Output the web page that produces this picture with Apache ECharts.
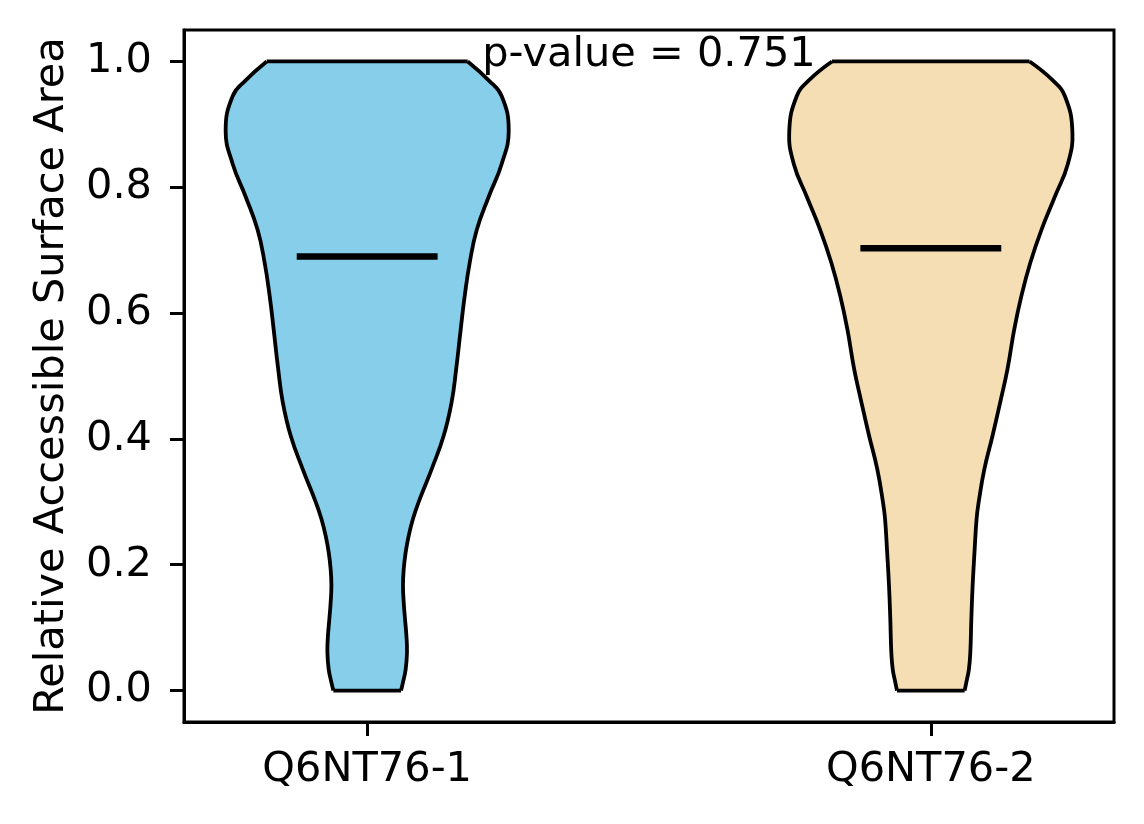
<!DOCTYPE html>
<html>
<head>
<meta charset="utf-8">
<script src="https://cdn.jsdelivr.net/npm/echarts@6/dist/echarts.min.js"></script>
<style>
  html, body { margin: 0; padding: 0; background: #fff; }
  #main { width: 1144px; height: 824px; }
</style>
</head>
<body>
<div id="main"></div>
<script>
// 分组
const groupNames = ['Q6NT76-1', 'Q6NT76-2'];
const groupPositions = [1, 2];
const groupColors = ['#87ceeb', '#f5deb3'];

// 小提琴轮廓：y 值 与 半宽（x 轴单位）
const violinY1 = [0.000, 0.013, 0.034, 0.061, 0.087, 0.114, 0.140, 0.167, 0.193, 0.220, 0.246, 0.273, 0.300, 0.352, 0.405, 0.459, 0.511, 0.574, 0.627, 0.680, 0.732, 0.785, 0.837, 0.890, 0.945, 0.970, 1.000];
const violinW1 = [0.060, 0.0635, 0.0683, 0.0706, 0.0696, 0.0671, 0.0648, 0.0635, 0.0648, 0.0683, 0.0736, 0.0813, 0.0914, 0.1144, 0.1357, 0.1499, 0.1579, 0.1659, 0.1730, 0.1819, 0.1943, 0.2156, 0.2386, 0.2511, 0.2386, 0.2156, 0.1783];

const violinY2 = [0.000, 0.013, 0.034, 0.061, 0.114, 0.167, 0.220, 0.273, 0.300, 0.352, 0.405, 0.459, 0.511, 0.574, 0.627, 0.680, 0.732, 0.785, 0.837, 0.890, 0.945, 0.970, 1.000];
const violinW2 = [0.060, 0.0630, 0.0676, 0.0701, 0.0719, 0.0742, 0.0775, 0.0812, 0.0850, 0.0950, 0.1095, 0.1233, 0.1360, 0.1480, 0.1606, 0.1765, 0.1961, 0.2200, 0.2431, 0.2511, 0.2378, 0.2165, 0.1753];

// 中位数
const medians = [0.690, 0.703];

// 刻度
const yTicks = [0, 0.2, 0.4, 0.6, 0.8, 1.0];

const pValueText = 'p-value = 0.751';

const profileYs = [violinY1, violinY2];
const profileWs = [violinW1, violinW2];

const FONT = 'DejaVu Sans';
const FONT_SIZE = 41.5;
const SMOOTH = 0.45;
const chart = echarts.init(document.getElementById('main'), null, { renderer: 'canvas' });

function renderViolin(params, api) {
  const i = params.dataIndex;
  const pos = groupPositions[i];
  const ys = profileYs[i];
  const ws = profileWs[i];
  const right = ys.map((y, k) => api.coord([pos + ws[k], y]));
  const left = ys.map((y, k) => api.coord([pos - ws[k], y]));
  const last = ys.length - 1;
  // 角点重复一次，避免平滑后填充越过上下边
  const leftRev = left.slice().reverse();
  const outline = [right[0]].concat(right, [right[last]], [leftRev[0]], leftRev, [leftRev[last]]);
  const edge = { stroke: '#000', lineWidth: 3.8, fill: null, lineJoin: 'round' };
  const mL = api.coord([pos - 0.125, medians[i]]);
  const mR = api.coord([pos + 0.125, medians[i]]);
  return {
    type: 'group',
    children: [
      { type: 'polygon', shape: { points: outline, smooth: SMOOTH }, style: { fill: groupColors[i], stroke: null } },
      { type: 'polyline', shape: { points: right, smooth: SMOOTH }, style: edge },
      { type: 'polyline', shape: { points: left, smooth: SMOOTH }, style: edge },
      { type: 'line', shape: { x1: left[0][0], y1: left[0][1], x2: right[0][0], y2: right[0][1] }, style: edge },
      { type: 'line', shape: { x1: left[last][0], y1: left[last][1], x2: right[last][0], y2: right[last][1] }, style: edge },
      { type: 'line', shape: { x1: mL[0], y1: mL[1], x2: mR[0], y2: mR[1] }, style: { stroke: '#000', lineWidth: 6.5 } }
    ]
  };
}

const axisText = { fontSize: FONT_SIZE, color: '#000', fontFamily: FONT };

chart.setOption({
  animation: false,
  backgroundColor: '#fff',
  grid: {
    left: 184, top: 30, right: 30, bottom: 102,
    show: true, borderColor: '#000', borderWidth: 3,
    containLabel: false, outerBoundsMode: 'none'
  },
  xAxis: {
    type: 'value',
    min: 0.675,
    max: 2.325,
    splitLine: { show: false },
    axisLine: { show: true, onZero: false, lineStyle: { color: '#000', width: 3 } },
    axisTick: { show: true, customValues: groupPositions, length: 14, lineStyle: { color: '#000', width: 3 } },
    axisLabel: Object.assign({
      customValues: groupPositions,
      margin: 27,
      formatter: v => groupNames[groupPositions.indexOf(v)] || ''
    }, axisText)
  },
  yAxis: {
    type: 'value',
    min: -0.05,
    max: 1.05,
    splitLine: { show: false },
    axisLine: { show: true, onZero: false, lineStyle: { color: '#000', width: 3 } },
    axisTick: { show: true, customValues: yTicks, length: 14, lineStyle: { color: '#000', width: 3 } },
    axisLabel: Object.assign({
      customValues: yTicks,
      margin: 32,
      formatter: v => v.toFixed(1)
    }, axisText),
    name: 'Relative Accessible Surface Area',
    nameLocation: 'middle',
    nameGap: 111,
    nameTextStyle: axisText
  },
  series: [{
    type: 'custom',
    coordinateSystem: 'cartesian2d',
    renderItem: renderViolin,
    data: groupPositions.map((p, i) => [p, medians[i]]),
    clip: false,
    silent: true
  }]
});

// p 值标注
const pv = chart.convertToPixel({ gridIndex: 0 }, [1.5, 1.01]);
chart.setOption({
  graphic: [{
    type: 'text',
    x: pv[0],
    y: pv[1],
    z: 100,
    style: {
      text: pValueText,
      fill: '#000',
      font: FONT_SIZE + 'px "DejaVu Sans"',
      textAlign: 'center',
      textVerticalAlign: 'middle'
    }
  }]
});
</script>
</body>
</html>
